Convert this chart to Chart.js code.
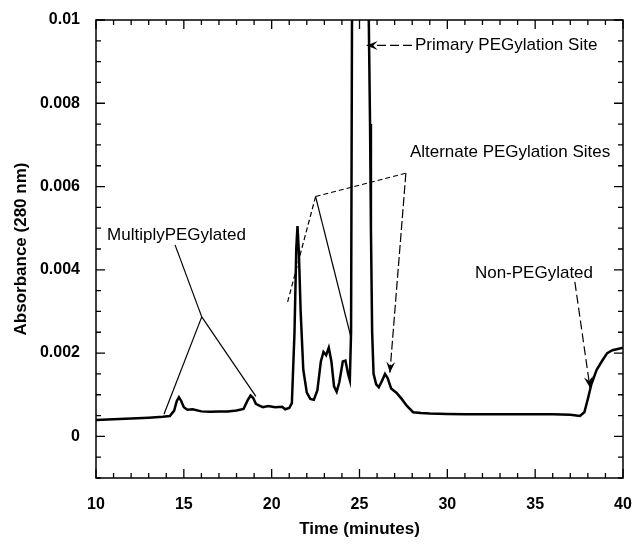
<!DOCTYPE html>
<html>
<head>
<meta charset="utf-8">
<script src="https://cdn.jsdelivr.net/npm/chart.js@4.4.1/dist/chart.umd.min.js"></script>
<style>
  body { margin: 0; background: #fff; }
  #wrap { width: 634px; height: 544px; }
</style>
</head>
<body>
<div id="wrap"><canvas id="chromChart" width="634" height="544"></canvas></div>
<script>
// Chromatogram trace
const times = [
  10.0, 11.0, 12.0, 13.0, 13.8, 14.2, 14.45, 14.6, 14.72, 14.85, 15.0, 15.2, 15.5, 16.0, 16.5, 17.0,
  17.5, 18.0, 18.4, 18.65, 18.8, 18.95, 19.1, 19.3, 19.5, 19.8, 20.2, 20.6, 20.76, 21.0, 21.15, 21.3,
  21.4, 21.47, 21.55, 21.65, 21.8, 22.0, 22.2, 22.4, 22.6, 22.8, 22.95, 23.1, 23.25, 23.4, 23.55, 23.7,
  23.85, 24.05, 24.2, 24.35, 24.45, 24.52, 24.58, 24.8, 25.2, 25.5, 25.6, 25.65, 25.72, 25.8, 25.95, 26.1,
  26.3, 26.45, 26.6, 26.8, 27.1, 27.4, 27.7, 28.05, 28.5, 29.0, 30.0, 31.0, 32.0, 33.0, 34.0, 35.0,
  36.0, 37.0, 37.55, 37.8, 38.0, 38.2, 38.5, 38.85, 39.1, 39.4, 39.7, 40.0
];
const absorbance = [
  0.00039, 0.00041, 0.00043, 0.00045, 0.00047, 0.00049, 0.00062, 0.00085, 0.00094, 0.00085, 0.00070, 0.00064, 0.00065, 0.00060, 0.00059, 0.00060,
  0.00060, 0.00062, 0.00066, 0.00088, 0.00098, 0.00092, 0.00078, 0.00074, 0.00070, 0.00073, 0.00070, 0.00071, 0.00065, 0.00068, 0.00080, 0.00250,
  0.00450, 0.00505, 0.00440, 0.00300, 0.00160, 0.00105, 0.00090, 0.00088, 0.00110, 0.00180, 0.00203, 0.00195, 0.00213, 0.00180, 0.00120, 0.00107,
  0.00130, 0.00180, 0.00182, 0.00150, 0.00135, 0.00250, 0.01100, 0.01300, 0.01300, 0.01100, 0.00750, 0.00500, 0.00250, 0.00150, 0.00125, 0.00118,
  0.00135, 0.00150, 0.00140, 0.00115, 0.00105, 0.00090, 0.00073, 0.00058, 0.00056, 0.00055, 0.00054, 0.00053, 0.00053, 0.00053, 0.00053, 0.00053,
  0.00053, 0.00052, 0.00049, 0.00058, 0.00090, 0.00125, 0.00160, 0.00184, 0.00200, 0.00207, 0.00210, 0.00213
];

const xTickValues = [10, 15, 20, 25, 30, 35, 40];
const xTickLabels = ["10", "15", "20", "25", "30", "35", "40"];
const yTickValues = [0, 0.002, 0.004, 0.006, 0.008, 0.01];
const yTickLabels = ["0", "0.002", "0.004", "0.006", "0.008", "0.01"];

const X_MIN = 10, X_MAX = 40, Y_MIN = -0.001, Y_MAX = 0.01;

// annotation labels and pointer lines, in data units
const labels = [
  { text: "MultiplyPEGylated", x: 10.63, y: 0.00472 },
  { text: "Primary PEGylation Site", x: 28.16, y: 0.00927 },
  { text: "Alternate PEGylation Sites", x: 27.87, y: 0.00671 },
  { text: "Non-PEGylated", x: 31.57, y: 0.00381 }
];
const pointers = [
  { from: [14.5, 0.0046], to: [16.02, 0.00287] },
  { from: [16.02, 0.00287], to: [13.87, 0.00053] },
  { from: [16.02, 0.00287], to: [19.1, 0.00096] },
  { from: [22.5, 0.00576], to: [27.64, 0.00632], dash: [5, 3] },
  { from: [22.5, 0.00576], to: [20.89, 0.0032], dash: [5, 3] },
  { from: [22.5, 0.00576], to: [24.55, 0.00232] },
  { from: [27.64, 0.00632], to: [26.73, 0.00153], dash: [9, 3], arrow: true },
  { from: [27.99, 0.00939], to: [25.41, 0.00939], dash: [9, 4], arrow: true },
  { from: [37.26, 0.00371], to: [38.12, 0.00117], dash: [9, 4], arrow: true }
];

const FONT = "'Liberation Sans', Arial, sans-serif";

// box, inward ticks and the annotations
const framePlugin = {
  id: "frame",
  afterDatasetsDraw(chart) {
    const { ctx, chartArea: a, scales: { x, y } } = chart;
    ctx.save();
    ctx.strokeStyle = "#000";
    ctx.lineWidth = 1.5;
    ctx.strokeRect(a.left, a.top, a.right - a.left, a.bottom - a.top);

    ctx.lineWidth = 1.3;
    ctx.beginPath();
    for (let v = X_MIN; v <= X_MAX; v += 1) {
      const px = x.getPixelForValue(v);
      const len = v % 5 === 0 ? 9 : 5;
      ctx.moveTo(px, a.bottom); ctx.lineTo(px, a.bottom - len);
      ctx.moveTo(px, a.top); ctx.lineTo(px, a.top + len);
    }
    for (let i = 0; i <= 22; i++) {
      const v = Y_MIN + i * 0.0005;
      const py = y.getPixelForValue(v);
      const major = Math.abs(Math.round(v * 1000) - v * 1000) < 1e-6 && Math.round(v * 1000) % 2 === 0;
      const len = major ? 9 : 5;
      ctx.moveTo(a.left, py); ctx.lineTo(a.left + len, py);
      ctx.moveTo(a.right, py); ctx.lineTo(a.right - len, py);
    }
    ctx.stroke();

    ctx.lineWidth = 1.2;
    pointers.forEach(p => {
      const x1 = x.getPixelForValue(p.from[0]), y1 = y.getPixelForValue(p.from[1]);
      const x2 = x.getPixelForValue(p.to[0]), y2 = y.getPixelForValue(p.to[1]);
      ctx.setLineDash(p.dash || []);
      ctx.beginPath();
      ctx.moveTo(x1, y1); ctx.lineTo(x2, y2);
      ctx.stroke();
      ctx.setLineDash([]);
      if (p.arrow) {
        const ang = Math.atan2(y2 - y1, x2 - x1);
        const L = 11, W = 4.5;
        const bx = x2 - L * Math.cos(ang), by = y2 - L * Math.sin(ang);
        ctx.beginPath();
        ctx.moveTo(x2, y2);
        ctx.lineTo(bx + W * Math.sin(ang), by - W * Math.cos(ang));
        ctx.lineTo(x2 - 0.6 * L * Math.cos(ang), y2 - 0.6 * L * Math.sin(ang));
        ctx.lineTo(bx - W * Math.sin(ang), by + W * Math.cos(ang));
        ctx.closePath();
        ctx.fillStyle = "#000";
        ctx.fill();
      }
    });

    ctx.fillStyle = "#000";
    ctx.font = "17px " + FONT;
    ctx.textAlign = "left";
    ctx.textBaseline = "alphabetic";
    labels.forEach(l => {
      ctx.fillText(l.text, x.getPixelForValue(l.x), y.getPixelForValue(l.y));
    });
    ctx.restore();
  }
};

new Chart(document.getElementById("chromChart"), {
  type: "line",
  data: {
    datasets: [{
      data: times.map((t, i) => ({ x: t, y: absorbance[i] })),
      borderColor: "#000",
      borderWidth: 2.5,
      pointRadius: 0,
      tension: 0,
      fill: false,
      clip: 0
    }]
  },
  options: {
    responsive: false,
    animation: false,
    layout: { padding: { top: 20, right: 11, bottom: 0, left: 0 } },
    plugins: { legend: { display: false }, tooltip: { enabled: false } },
    scales: {
      x: {
        type: "linear",
        min: X_MIN,
        max: X_MAX,
        afterBuildTicks: s => { s.ticks = xTickValues.map(v => ({ value: v })); },
        afterFit: s => { s.height = 66; s.paddingLeft = 0; s.paddingRight = 0; },
        grid: { display: false, drawTicks: false },
        border: { display: false },
        ticks: {
          color: "#000",
          font: { family: FONT, size: 16, weight: "bold" },
          padding: 17,
          maxRotation: 0,
          callback: v => xTickLabels[xTickValues.indexOf(v)]
        },
        title: {
          display: true,
          text: "Time (minutes)",
          color: "#000",
          font: { family: FONT, size: 17, weight: "bold" },
          padding: { top: 0, bottom: 4 }
        }
      },
      y: {
        type: "linear",
        min: Y_MIN,
        max: Y_MAX,
        afterBuildTicks: s => { s.ticks = yTickValues.map(v => ({ value: v })); },
        afterFit: s => { s.width = 96; s.paddingTop = 0; s.paddingBottom = 0; },
        grid: { display: false, drawTicks: false },
        border: { display: false },
        ticks: {
          color: "#000",
          font: { family: FONT, size: 16, weight: "bold" },
          padding: 16,
          callback: v => yTickLabels[yTickValues.indexOf(v)]
        },
        title: {
          display: true,
          text: "Absorbance (280 nm)",
          color: "#000",
          font: { family: FONT, size: 17, weight: "bold" },
          padding: { top: 11, bottom: 0 }
        }
      }
    }
  },
  plugins: [framePlugin]
});
</script>
</body>
</html>
